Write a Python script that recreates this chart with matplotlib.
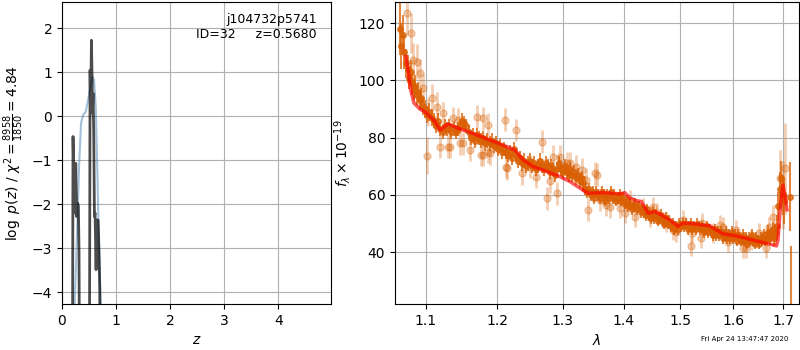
import matplotlib
matplotlib.use('Agg')
import matplotlib.pyplot as plt
from matplotlib.ticker import FixedLocator, NullLocator, FormatStrFormatter

# === p(z) panel ===
z_pz = [0.185, 0.204, 0.217, 0.229, 0.241, 0.254, 0.272, 0.291, 0.303, 0.315, 0.333,
        0.40, 0.50, 0.519, 0.531, 0.544, 0.556, 0.563, 0.574, 0.587, 0.600, 0.611,
        0.630, 0.643, 0.667, 0.685, 0.698, 0.711, 0.80, 2.0, 4.97]
logpz = [-10, -0.46, -1.30, -1.07, -2.20, -1.07, -2.28, -1.98, -2.05, -3.11, -10,
         -10, -10, 1.05, 0.14, 1.73, 0.90, 0.07, 0.52, -0.39, -2.28, -2.20,
         -3.49, -2.36, -2.36, -3.11, -3.95, -10, -10, -10, -10]
z_prior = [0.20, 0.235, 0.278, 0.315, 0.352, 0.389, 0.439, 0.481, 0.526, 0.563,
           0.593, 0.624, 0.655, 0.685, 0.717, 0.75]
logp_prior = [-7, -4.27, -2.66, -1.15, -0.16, 0.03, 0.10, 0.37, 0.67, 0.90,
              0.82, 0.22, -1.30, -3.11, -4.27, -7]

# === spectrum panel: model ===
lam_model = [1.0739, 1.0770, 1.0801, 1.0845, 1.0924, 1.1013, 1.1125, 1.1193, 1.1307,
             1.1445, 1.1704, 1.1992, 1.2139, 1.2262, 1.2387, 1.2538, 1.2744, 1.2952,
             1.3111, 1.3299, 1.3406, 1.3653, 1.3933, 1.4018, 1.4103, 1.4219, 1.4306,
             1.4421, 1.4539, 1.4658, 1.4807, 1.4957, 1.5037, 1.5172, 1.5545, 1.5798,
             1.6058, 1.6320, 1.6586, 1.6859, 1.6892, 1.6941, 1.6995, 1.7051, 1.7078]
flux_model = [108.3, 103.1, 96.7, 92.1, 90.0, 88.6, 85.6, 82.7, 84.8,
              83.3, 81.0, 78.3, 76.9, 75.7, 72.2, 69.9, 68.2, 66.4,
              64.7, 62.0, 60.6, 60.8, 60.4, 60.8, 58.9, 58.0, 57.7,
              53.6, 54.2, 53.0, 51.3, 49.0, 50.1, 50.1, 49.2, 46.4,
              45.7, 44.5, 43.4, 42.2, 44.3, 55.9, 63.5, 58.3, 54.8]

# === spectrum panel: good data points ===
lam_good = [1.066, 1.068, 1.070, 1.072, 1.074, 1.076, 1.078, 1.080, 1.082, 1.084,
            1.086, 1.088, 1.090, 1.092, 1.094, 1.096, 1.099, 1.102, 1.105, 1.108,
            1.111, 1.114, 1.117, 1.120, 1.123, 1.126, 1.129, 1.132, 1.135, 1.138,
            1.141, 1.144, 1.147, 1.150, 1.153, 1.156, 1.159, 1.162, 1.165, 1.168,
            1.171, 1.174, 1.177, 1.180, 1.183, 1.186, 1.189, 1.192, 1.195, 1.198,
            1.201, 1.204, 1.207, 1.210, 1.213, 1.216, 1.219, 1.222, 1.225, 1.228,
            1.231, 1.234, 1.237, 1.240, 1.243, 1.246, 1.249, 1.252, 1.255, 1.258,
            1.261, 1.264, 1.267, 1.270, 1.273, 1.276, 1.279, 1.282, 1.285, 1.288,
            1.291, 1.294, 1.297, 1.300, 1.303, 1.306, 1.309, 1.312, 1.315, 1.318,
            1.321, 1.324, 1.327, 1.330, 1.333, 1.336, 1.339, 1.342, 1.345, 1.348,
            1.351, 1.354, 1.357, 1.360, 1.363, 1.366, 1.369, 1.372, 1.375, 1.378,
            1.381, 1.384, 1.387, 1.390, 1.393, 1.396, 1.399, 1.402, 1.405, 1.408,
            1.411, 1.414, 1.417, 1.420, 1.423, 1.426, 1.429, 1.432, 1.435, 1.438,
            1.441, 1.444, 1.447, 1.450, 1.453, 1.456, 1.459, 1.462, 1.465, 1.468,
            1.471, 1.474, 1.477, 1.480, 1.483, 1.486, 1.489, 1.492, 1.495, 1.498,
            1.501, 1.504, 1.507, 1.510, 1.513, 1.516, 1.519, 1.522, 1.525, 1.528,
            1.531, 1.534, 1.537, 1.540, 1.543, 1.546, 1.549, 1.552, 1.555, 1.558,
            1.561, 1.564, 1.567, 1.570, 1.573, 1.576, 1.579, 1.582, 1.585, 1.588,
            1.591, 1.594, 1.597, 1.600, 1.603, 1.606, 1.609, 1.612, 1.615, 1.618,
            1.621, 1.624, 1.627, 1.630, 1.633, 1.636, 1.639, 1.642, 1.645, 1.648,
            1.651, 1.654, 1.657, 1.660, 1.663, 1.666, 1.669, 1.672, 1.675, 1.678,
            1.681, 1.684, 1.687, 1.690, 1.693, 1.696, 1.699, 1.702, 1.7135, 1.7155]
flux_good = [118, 112, 116, 110, 106, 104, 101, 103, 99, 97,
             98, 95, 96, 93, 94, 91, 90, 88, 89, 87,
             86, 84, 86, 83, 82, 84, 83, 84, 82, 83,
             82, 83, 84, 86, 85, 84, 82, 80, 81, 79,
             81, 80, 79, 80, 78, 79, 78, 79, 77, 78,
             76, 77, 75, 76, 75, 74, 75, 73, 76, 74,
             72, 73, 71, 72, 70, 71, 72, 70, 71, 69,
             70, 72, 70, 69, 71, 70, 68, 70, 69, 67,
             69, 71, 69, 68, 70, 68, 67, 69, 67, 68,
             66, 67, 65, 66, 64, 62, 61, 62, 60, 61,
             59, 61, 60, 59, 61, 60, 58, 60, 59, 61,
             59, 60, 58, 59, 60, 58, 59, 57, 58, 56,
             57, 55, 56, 57, 55, 56, 54, 55, 54, 53,
             55, 53, 52, 54, 52, 53, 51, 52, 53, 51,
             50, 52, 50, 51, 49, 50, 48, 49, 48, 50,
             49, 50, 49, 50, 48, 49, 50, 48, 49, 48,
             50, 49, 48, 49, 47, 48, 49, 47, 48, 47,
             46, 48, 46, 47, 46, 47, 45, 46, 47, 45,
             46, 45, 47, 45, 46, 44, 46, 45, 44, 46,
             44, 45, 43, 45, 44, 46, 44, 43, 45, 44,
             43, 45, 44, 46, 44, 45, 47, 45, 46, 48,
             45, 47, 49, 56, 62, 66, 60, 58, 59.4, 15]
err_good = [9, 8, 7, 6, 5, 5, 4, 4, 4, 4,
            4, 3.5, 3.5, 3.5, 3.5, 3, 3, 3, 3, 3] + [2.5] * 75 + [2] * 111 + \
           [2.5, 2.5, 2.5, 2.5, 3, 3, 4, 5, 6, 6, 7, 8, 12, 27]

# === spectrum panel: low-weight data points ===
lam_bad = [1.0757, 1.0801, 1.0835, 1.0880, 1.0924, 1.0969, 1.1021, 1.1035, 1.1080, 1.1148,
           1.1193, 1.1238, 1.1307, 1.1331, 1.1377, 1.1445, 1.1467, 1.1513, 1.1607, 1.1704,
           1.1773, 1.1796, 1.1796, 1.1868, 1.1868, 1.1889, 1.2114, 1.2129, 1.2139, 1.2277,
           1.2363, 1.2484, 1.2585, 1.2666, 1.2744, 1.2792, 1.2843, 1.2901, 1.2952, 1.3061,
           1.3111, 1.3214, 1.3299, 1.3370, 1.3406, 1.3514, 1.3544, 1.3597, 1.3706, 1.3765,
           1.3933, 1.4018, 1.4103, 1.4189, 1.4334, 1.4450, 1.4509, 1.4573, 1.4744, 1.4859,
           1.4928, 1.5039, 1.5203, 1.5219, 1.5389, 1.5399, 1.5611, 1.5736, 1.5798, 1.5895,
           1.6058, 1.6188, 1.6250, 1.6353, 1.6511, 1.6655, 1.6715, 1.6789, 1.6820, 1.6941,
           1.6992, 1.7029]
flux_bad = [123.7, 116.5, 107.2, 106.6, 102.5, 97.3, 73.7, 89.0, 93.8, 90.8,
            76.9, 88.6, 76.9, 76.9, 86.8, 86.2, 78.0, 78.1, 75.7, 87.4,
            74.0, 86.8, 74.0, 75.1, 84.5, 74.5, 86.2, 69.9, 69.3, 82.7,
            67.5, 69.9, 66.4, 78.6, 58.9, 64.7, 73.4, 60.6, 73.4, 71.1,
            71.1, 69.9, 68.8, 65.3, 54.8, 67.5, 67.0, 58.3, 56.5, 55.9,
            55.4, 53.6, 58.3, 52.4, 55.4, 52.4, 55.9, 53.6, 50.7, 47.8,
            47.2, 51.3, 42.0, 46.6, 44.9, 50.1, 46.6, 49.5, 48.9, 43.4,
            47.8, 41.4, 41.4, 44.3, 46.6, 41.4, 48.9, 52.4, 46.6, 65.8,
            60.0, 69.3]
err_bad = [8, 7, 6, 6, 5, 5, 6.5, 5, 5, 5,
           4, 4, 4, 4, 4, 4, 4, 4, 4, 4,
           4, 4, 4, 4, 4, 4, 4, 4, 4, 4,
           4, 4, 4, 4, 4, 4, 4, 4, 4, 4,
           4, 4, 4, 4, 4, 4, 4, 4, 4, 4,
           3.5, 3.5, 3.5, 3.5, 3.5, 3.5, 3.5, 3.5, 3.5, 3.5,
           3.5, 3.5, 3.5, 3.5, 3.5, 3.5, 3.5, 3.5, 3.5, 3.5,
           3.5, 3.5, 3.5, 3.5, 3.5, 3.5, 3.5, 4, 4, 10,
           12, 16]

lam_ticks = [1.1, 1.2, 1.3, 1.4, 1.5, 1.6, 1.7]
flux_ticks = [40, 60, 80, 100, 120]
z_ticks = [0, 1, 2, 3, 4]
pz_ticks = [-4, -3, -2, -1, 0, 1, 2]

orange = '#d95f02'

fig = plt.figure(figsize=(8, 3.5), dpi=100)
ax1 = fig.add_axes([0.0775, 0.1314, 0.336, 0.8629])
ax2 = fig.add_axes([0.49375, 0.1314, 0.505, 0.8629])

# --- p(z) ---
ax1.plot(z_prior, logp_prior, color='steelblue', alpha=0.5, lw=1.5)
ax1.plot(z_pz, logpz, color='k', alpha=0.7, lw=2)
ax1.set_xlim(0, 4.97)
ax1.set_ylim(-4.27, 2.60)
ax1.set_xticks(z_ticks)
ax1.set_yticks(pz_ticks)
ax1.grid()
ax1.set_xlabel(r'$z$')
ax1.set_ylabel(r'$\log\ p(z)$ / $\chi^2=\frac{8958}{1850}=4.84$')
ax1.text(0.947, 0.965, 'j104732p5741\nID=32     z=0.5680', transform=ax1.transAxes,
         ha='right', va='top', fontsize=9)

# --- spectrum ---
ax2.errorbar(lam_bad, flux_bad, yerr=err_bad, marker='o', linestyle='None',
             color=orange, alpha=0.3, ms=5, elinewidth=2)
ax2.errorbar(lam_good, flux_good, yerr=err_good, marker='o', linestyle='None',
             color=orange, alpha=0.75, ms=4, elinewidth=1.5)
ax2.plot(lam_model, flux_model, color='red', alpha=0.65, lw=2.5, zorder=10)
ax2.set_xscale('log')
ax2.xaxis.set_major_locator(FixedLocator(lam_ticks))
ax2.xaxis.set_major_formatter(FormatStrFormatter('%.1f'))
ax2.xaxis.set_minor_locator(NullLocator())
ax2.set_xlim(1.0597, 1.7329)
ax2.set_ylim(21.9, 127.4)
ax2.set_yticks(flux_ticks)
ax2.grid()
ax2.set_xlabel(r'$\lambda$')
ax2.set_ylabel(r'$f_\lambda\times10^{-19}$')

fig.text(0.985, 0.022, 'Fri Apr 24 13:47:47 2020', ha='right', va='bottom', fontsize=5)

fig.savefig('out.png', dpi=100)
